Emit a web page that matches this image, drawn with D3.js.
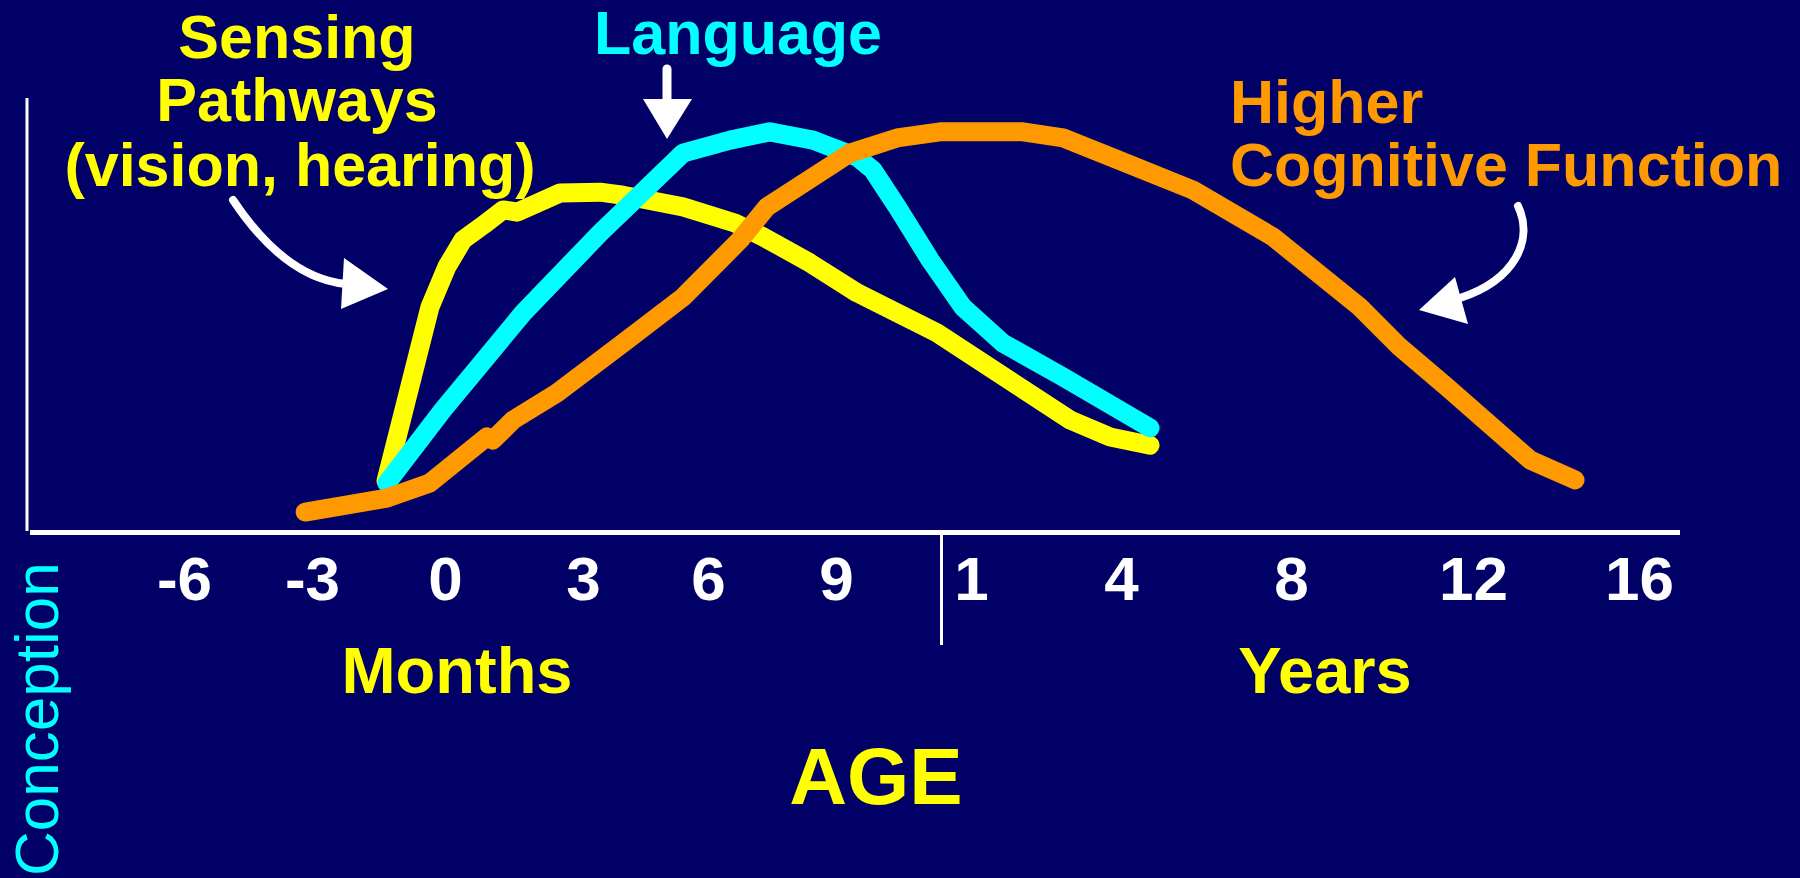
<!DOCTYPE html>
<html>
<head>
<meta charset="utf-8">
<script src="https://cdn.jsdelivr.net/npm/d3@7"></script>
<style>
  html, body { margin: 0; padding: 0; background: #000066; }
  svg { display: block; }
  text { font-family: "Liberation Sans", Arial, sans-serif; }
</style>
</head>
<body>
<div id="wrapper"></div>
<script>
// age in months (years past 1 are stored as months: 4 yr = 48)
var tickMonths = [-6, -3, 0, 3, 6, 9, 12, 48, 96, 144, 192];
var tickLabels = ["-6", "-3", "0", "3", "6", "9", "1", "4", "8", "12", "16"];

// Sensing Pathways (vision, hearing)
var sensingAge = [-1.33, -0.34, 0.04, 0.39, 0.83, 1.26, 1.41, 1.57, 2.5, 3.41, 3.96, 5.4, 6.63, 7.29, 8.39, 9.47, 11.24, 35.8, 45.4, 56.2];
var sensingVal = [11.8, 51.8, 61.1, 67.3, 70.7, 74.2, 74.0, 73.7, 78.1, 78.3, 77.6, 74.9, 71.2, 68.0, 62.0, 55.1, 45.9, 25.8, 21.9, 20.0];

// Language
var languageAge = [-1.31, -0.05, 1.7, 3.41, 5.4, 6.52, 7.45, 8.46, 9.47, 9.82, 10.36, 11.09, 11.82, 19.7, 34.1, 56.2];
var languageVal = [11.3, 28.1, 50.5, 68.9, 87.3, 90.3, 92.2, 90.3, 86.4, 83.4, 74.9, 62.7, 51.8, 43.5, 35.7, 24.0];

// Higher Cognitive Function
var higherAge = [-3.16, -1.31, -0.34, 0.91, 1.04, 1.48, 2.43, 3.96, 5.4, 6.75, 7.38, 9.31, 10.36, 11.31, 24.5, 34.1, 46.1, 68.3, 90.9, 114.2, 124.7, 137.1, 160.5, 173.5];
var higherVal = [4.6, 7.8, 11.3, 21.9, 21.2, 25.8, 32.0, 43.5, 54.1, 67.3, 74.9, 87.3, 90.8, 92.2, 92.2, 90.8, 86.2, 78.8, 68.0, 51.8, 42.6, 33.4, 16.6, 12.0];

var W = 1800, H = 878;
var bg = "#000066", yellow = "#ffff00", cyan = "#00ffff", orange = "#ff9900";

var svg = d3.select('#wrapper')
            .append('svg')
            .attr('width', W)
            .attr('height', H);

svg.append('rect').attr('width', W).attr('height', H).attr('fill', bg);

// the slide's axis is not even: months and years share one ruler
var x = d3.scaleLinear()
          .domain(tickMonths)
          .range([184, 312, 445, 583, 708, 836, 971, 1121, 1291, 1473, 1639]);
var y = d3.scaleLinear().domain([0, 100]).range([532, 98]);

// axes lines
svg.append('line')
   .attr('x1', 27).attr('x2', 27)
   .attr('y1', y(100)).attr('y2', y(0) - 1)
   .attr('stroke', '#ffffff').attr('stroke-width', 3);

svg.append('line')
   .attr('x1', 30).attr('x2', 1680)
   .attr('y1', y(0) + 0.5).attr('y2', y(0) + 0.5)
   .attr('stroke', '#ffffff').attr('stroke-width', 5);

// months | years divider
svg.append('line')
   .attr('x1', 941.5).attr('x2', 941.5)
   .attr('y1', y(0) + 3).attr('y2', 645)
   .attr('stroke', '#ffffff').attr('stroke-width', 3);

var axis = d3.axisBottom(x)
             .tickValues(tickMonths)
             .tickFormat(function(d, i) { return tickLabels[i]; })
             .tickSize(0);

var gx = svg.append('g')
            .attr('transform', 'translate(0,' + y(0) + ')')
            .call(axis);
gx.select('.domain').remove();
gx.selectAll('text')
  .attr('y', 68)
  .attr('dy', null)
  .attr('fill', '#ffffff')
  .style('font-family', '"Liberation Sans", Arial, sans-serif')
  .style('font-size', '62px')
  .style('font-weight', 'bold');

// curves
var line = d3.line()
             .x(function(d) { return x(d[0]); })
             .y(function(d) { return y(d[1]); });

var series = [
  { ages: sensingAge, vals: sensingVal, color: yellow },
  { ages: languageAge, vals: languageVal, color: cyan },
  { ages: higherAge, vals: higherVal, color: orange }
];

svg.selectAll('path.curve')
   .data(series)
   .enter()
   .append('path')
   .attr('class', 'curve')
   .attr('d', function(s) { return line(d3.zip(s.ages, s.vals)); })
   .attr('fill', 'none')
   .attr('stroke', function(s) { return s.color; })
   .attr('stroke-width', 19)
   .attr('stroke-linecap', 'round')
   .attr('stroke-linejoin', 'round');

// annotation arrows
var arrows = svg.append('g').attr('fill', '#ffffff');

arrows.append('path')
      .attr('d', 'M233,200 Q285,278 346,284')
      .attr('fill', 'none').attr('stroke', '#ffffff')
      .attr('stroke-width', 8).attr('stroke-linecap', 'round');
arrows.append('path').attr('d', 'M344,258 L388,289 L341,309 Z');

arrows.append('line')
      .attr('x1', 667).attr('x2', 667).attr('y1', 69).attr('y2', 102)
      .attr('stroke', '#ffffff').attr('stroke-width', 9).attr('stroke-linecap', 'round');
arrows.append('path').attr('d', 'M643,99 L692,99 L667,139 Z');

arrows.append('path')
      .attr('d', 'M1518,206 C1534,240 1515,280 1460,298')
      .attr('fill', 'none').attr('stroke', '#ffffff')
      .attr('stroke-width', 8).attr('stroke-linecap', 'round');
arrows.append('path').attr('d', 'M1455,277 L1468,324 L1419,310 Z');

// labels
function label(txt, tx, ty, color, size, anchor, weight) {
  return svg.append('text')
            .attr('x', tx).attr('y', ty)
            .attr('fill', color)
            .attr('text-anchor', anchor || 'middle')
            .style('font-size', size + 'px')
            .style('font-weight', weight || 'bold')
            .text(txt);
}

label('Sensing', 297, 58, yellow, 61);
label('Pathways', 297, 121, yellow, 61);
label('(vision, hearing)', 300, 186, yellow, 61);
label('Language', 738, 54, cyan, 61);
label('Higher', 1230, 123, orange, 61, 'start');
label('Cognitive Function', 1230, 186, orange, 61, 'start');

label('Months', 457, 693, yellow, 65);
label('Years', 1325, 693, yellow, 65);
label('AGE', 876, 804, yellow, 80);

label('Conception', 0, 0, cyan, 62, 'start', 'normal')
  .attr('transform', 'translate(58,876) rotate(-90)');
</script>
</body>
</html>
